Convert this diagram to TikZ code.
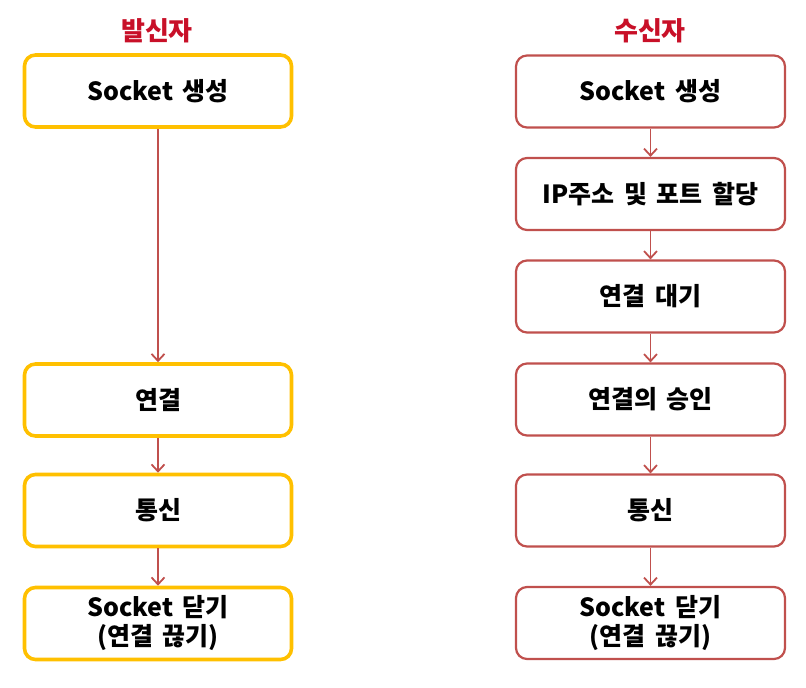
\documentclass[tikz,border=0pt]{standalone}
\usepackage{fontspec}
\setmainfont{Noto Sans CJK KR}[WordSpace=1.7]
\usetikzlibrary{arrows.meta}
\definecolor{ybord}{RGB}{255,192,0}
\definecolor{rbord}{RGB}{192,80,77}
\definecolor{ttl}{RGB}{200,16,40}
\begin{document}
\begin{tikzpicture}[x=1pt,y=-1pt,
  ybox/.style={draw=ybord,line width=3.6pt,rounded corners=11pt,minimum width=267pt,minimum height=72pt,fill=white,font=\fontsize{25}{29}\selectfont\bfseries,align=center,inner sep=0pt},
  rbox/.style={draw=rbord,line width=2.2pt,rounded corners=11pt,minimum width=269pt,minimum height=72pt,fill=white,font=\fontsize{25}{29}\selectfont\bfseries,align=center,inner sep=0pt},
  ttlstyle/.style={text=ttl,font=\fontsize{26}{30}\selectfont\bfseries},
  conn/.style={draw=rbord,line width=1.8pt,-{Straight Barb[length=7pt,width=13pt,line width=1.8pt]}}]
\useasboundingbox (0,0) rectangle (806,688);
\node[ttlstyle] (t1) at (157,31) {발신자};
\node[ttlstyle] (t2) at (650,31) {수신자};
\node[ybox] (l1) at (158,91) {Socket 생성};
\node[ybox] (l2) at (158,400) {연결};
\node[ybox] (l3) at (158,510.5) {통신};
\node[ybox] (l4) at (158,623.5) {Socket 닫기\\(연결 끊기)};
\node[rbox] (r1) at (650.5,91.5) {Socket 생성};
\node[rbox] (r2) at (650.5,194) {IP주소 및 포트 할당};
\node[rbox] (r3) at (650.5,296.5) {연결 대기};
\node[rbox] (r4) at (650.5,399.5) {연결의 승인};
\node[rbox] (r5) at (650.5,510.5) {통신};
\node[rbox] (r6) at (650.5,623) {Socket 닫기\\(연결 끊기)};
\draw[conn] (l1) -- (l2);
\draw[conn] (l2) -- (l3);
\draw[conn] (l3) -- (l4);
\draw[conn] (r1) -- (r2);
\draw[conn] (r2) -- (r3);
\draw[conn] (r3) -- (r4);
\draw[conn] (r4) -- (r5);
\draw[conn] (r5) -- (r6);
\end{tikzpicture}
\end{document}
